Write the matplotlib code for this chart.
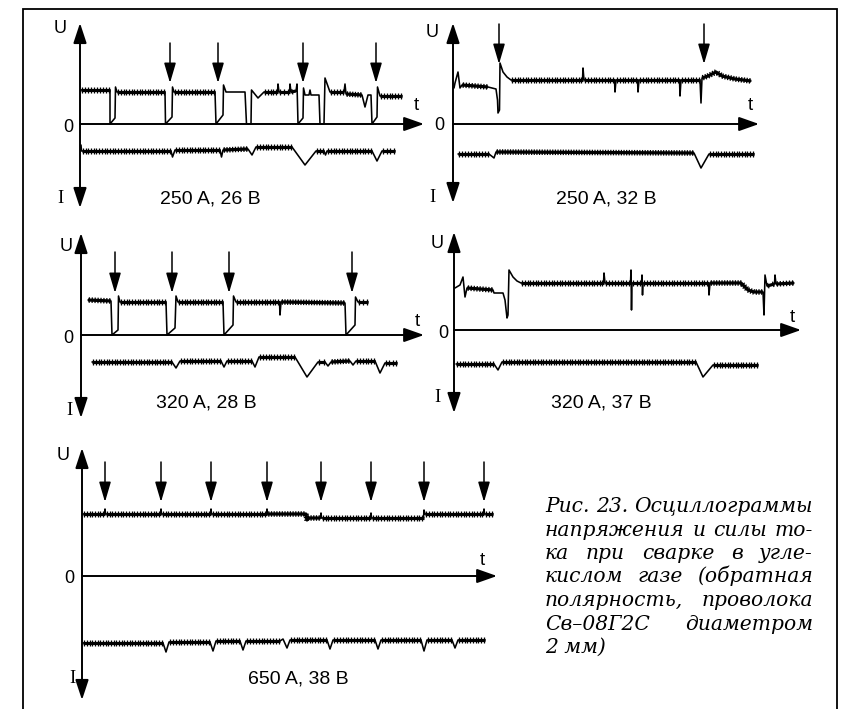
import numpy as np
import matplotlib
matplotlib.use("Agg")
import matplotlib.pyplot as plt
from matplotlib.transforms import Affine2D
from matplotlib import patheffects as pe

# ---------------- data (t = time from U axis, values above/below the zero line) -------------
P1_U_T = [1, 30, 30, 35, 35.5, 37, 85, 85.5, 92, 92.5, 94, 135, 136, 143, 143.5, 146, 165, 166.5, 171, 171.5,
          178, 184, 197.5, 198, 199, 209.5, 210, 211, 216, 217, 218, 223, 223.5, 225, 229, 230, 231, 239, 240, 244,
          245, 250, 264, 265, 266, 282, 285, 288, 291, 292, 297, 297.5, 300, 322]
P1_U_V = [34, 34, 0, 6, 37, 32, 32, 0, 7, 37, 32, 32, 0, 9, 39, 32, 32, 0, 0, 34,
          26, 32, 32, 40, 32, 32, 40, 32, 33, 40, 0, 6, 36, 29, 29, 34, 29, 29, 0, 0,
          46, 32, 32, 40, 30, 29, 17, 29, 29, 0, 7, 37, 28, 28]
P1_U_N = [1, 0, 0, 0, 0, 1, 0, 0, 0, 0, 1, 0, 0, 0, 0, 0, 0, 0, 0, 0,
          0, 1, 0, 0, 1, 0, 0, 1, 0, 0, 0, 0, 0, 0, 0, 0, 0, 0, 0, 0,
          0, 1, 0, 0, 1, 0, 0, 0, 0, 0, 0, 0, 1, 0]
P1_I_T = [1, 1.5, 91, 92.5, 95, 140, 141.5, 143, 168, 172, 176, 212, 225, 236, 244, 245.5, 247, 292, 297, 302, 315]
P1_I_V = [21, 27, 27, 33, 26, 26, 33, 26, 25, 31, 23, 23, 41, 27, 27, 31, 27, 27, 37, 27, 27]
P1_I_N = [0, 1, 0, 0, 1, 0, 0, 1, 0, 0, 1, 0, 0, 1, 0, 0, 1, 0, 0, 1, 0]
P1_ARROWS = [90, 138, 223, 296]

P2_U_T = [1, 2, 5, 7, 9, 35, 43, 44.5, 45, 46.5, 47, 50, 54, 58, 129.5, 130, 131, 161.5, 162, 163,
          184.5, 185, 186, 226.5, 227, 228, 247, 248, 249, 255, 263, 269, 282, 298]
P2_U_V = [36, 41, 52, 36, 39, 37, 35, 24, 11, 14, 61, 52, 47, 44, 44, 56, 44, 44, 32, 44,
          44, 32, 44, 44, 28, 44, 44, 21, 46, 48, 52, 48, 45, 43]
P2_U_N = [0, 0, 0, 0, 1, 0, 0, 0, 0, 0, 0, 0, 0, 1, 0, 0, 1, 0, 0, 1,
          0, 0, 1, 0, 0, 1, 0, 0, 1, 1, 1, 1, 1, 0]
P2_I_T = [5, 36, 41, 43, 241, 248, 256, 301]
P2_I_V = [30, 30, 34, 28, 29, 44, 30, 30]
P2_I_N = [1, 0, 0, 1, 0, 0, 1, 0]
P2_ARROWS = [46, 251]

P3_U_T = [7, 30, 31, 37, 37.5, 39, 85, 86, 94, 95, 97, 142, 143, 152, 152.5, 155, 198.5, 199, 200, 264,
          265, 274, 274.5, 277, 287]
P3_U_V = [35, 34, 0, 5, 39, 33, 33, 0, 7, 39, 33, 33, 0, 10, 39, 33, 33, 20, 33, 32,
          0, 10, 38, 33, 33]
P3_U_N = [1, 0, 0, 0, 0, 1, 0, 0, 0, 0, 1, 0, 0, 0, 0, 1, 0, 0, 1, 0, 0, 0, 0, 1, 0]
P3_I_T = [11, 91, 95, 99, 140, 143, 146, 171, 174, 178, 214, 226, 237, 244, 247, 250, 269, 272, 275, 294,
          299, 304, 316]
P3_I_V = [27, 27, 33, 26, 26, 32, 26, 26, 32, 22, 22, 42, 27, 27, 31, 27, 26, 30, 26, 26, 38, 28, 28]
P3_I_N = [1, 0, 0, 1, 0, 0, 1, 0, 0, 1, 0, 0, 1, 0, 0, 1, 0, 0, 1, 0, 0, 1, 0]
P3_ARROWS = [34, 91, 148, 271]

P4_U_T = [1, 6, 9, 11, 13, 39, 40, 49, 51, 53, 54, 55, 59, 63, 67, 149.5, 150, 151, 176.5, 177,
          177.5, 178, 187.5, 188, 188.5, 189, 254.5, 255, 256, 287, 294, 300, 309, 310, 311, 313, 320.5, 321, 322, 340]
P4_U_V = [42, 45, 53, 33, 42, 40, 37, 37, 30, 12, 15, 60, 53, 49, 47, 47, 57, 47, 47, 60,
          20, 47, 47, 55, 35, 47, 47, 35, 47, 47, 40, 38, 38, 15, 55, 44, 46, 55, 46, 47]
P4_U_N = [0, 0, 0, 0, 1, 0, 0, 0, 0, 0, 0, 0, 0, 0, 1, 0, 0, 1, 0, 0,
          0, 1, 0, 0, 0, 1, 0, 0, 1, 1, 1, 1, 0, 0, 0, 1, 0, 0, 1, 0]
P4_I_T = [2, 40, 44, 48, 242, 249, 259, 304]
P4_I_V = [34, 34, 40, 32, 32, 47, 35, 35]
P4_I_N = [1, 0, 0, 1, 0, 0, 1, 0]
P4_ARROWS = []

P5_U_T = [1, 22.5, 23, 23.5, 78.5, 79, 79.5, 128.5, 129, 129.5, 184.5, 185, 185.5, 224, 225, 226, 238.5, 239, 239.5, 288.5,
          289, 289.5, 341.5, 342, 343, 401.5, 402, 402.5, 411]
P5_U_V = [62, 62, 67, 62, 62, 67, 62, 62, 67, 62, 62, 67, 62, 62, 56, 58, 58, 63, 58, 58,
          63, 58, 58, 66, 62, 62, 67, 62, 62]
P5_U_N = [1, 0, 0, 1, 0, 0, 1, 0, 0, 1, 0, 0, 1, 1, 1, 1, 0, 0, 1, 0,
          0, 1, 0, 0, 1, 0, 0, 1, 0]
P5_I_T = [1, 81, 84, 87, 128, 131, 134, 158, 161, 164, 198, 201, 205, 208, 245, 248, 251, 293, 296, 299,
          339, 342, 345, 370, 373, 376, 403]
P5_I_V = [67, 67, 76, 66, 66, 75, 65, 65, 74, 65, 65, 63, 72, 64, 64, 73, 64, 64, 73, 64,
          64, 75, 64, 64, 72, 64, 64]
P5_I_N = [1, 0, 0, 1, 0, 0, 1, 0, 0, 1, 0, 0, 0, 1, 0, 0, 1, 0, 0, 1, 0, 0, 1, 0, 0, 1, 0]
P5_ARROWS = [23, 79, 129, 185, 239, 289, 342, 402]

PANEL_TITLES = ["250 A, 26 B", "250 A, 32 B", "320 A, 28 B", "320 A, 37 B", "650 A, 38 B"]
CAPTION_LINES = ["Рис. 23. Осциллограммы", "напряжения и силы то-", "ка при сварке в угле-",
                 "кислом газе (обратная", "полярность, проволока", "Св–08Г2С диаметром", "2 мм)"]

# ---------------- layout (pixels) ----------------
W, H = 842, 709
PANELS = [
    dict(x0=80, y0=124, top=101, bot=84, tend=344, atop=81, atip=41,
         U=(60, 33), Z=(68.5, 132), I=(60, 203), t=(416, 110), title=(210, 204)),
    dict(x0=453, y0=124, top=101, bot=79, tend=306, atop=100, atip=60,
         U=(432, 37), Z=(439, 130), I=(432, 202), t=(750, 110), title=(606, 203)),
    dict(x0=81, y0=335, top=102, bot=83, tend=343, atop=83, atip=42,
         U=(66, 251), Z=(68.5, 343), I=(69, 415), t=(417, 326), title=(206, 408)),
    dict(x0=454, y0=330, top=98, bot=83, tend=347, atop=0, atip=0,
         U=(437, 248), Z=(443, 338), I=(437, 402), t=(792, 322), title=(601, 407)),
    dict(x0=82, y0=576, top=128, bot=124, tend=415, atop=114, atip=74,
         U=(63, 460), Z=(69, 583), I=(72, 683), t=(482, 565), title=(298, 683)),
]
DATA = [
    (P1_U_T, P1_U_V, P1_U_N, P1_I_T, P1_I_V, P1_I_N, P1_ARROWS),
    (P2_U_T, P2_U_V, P2_U_N, P2_I_T, P2_I_V, P2_I_N, P2_ARROWS),
    (P3_U_T, P3_U_V, P3_U_N, P3_I_T, P3_I_V, P3_I_N, P3_ARROWS),
    (P4_U_T, P4_U_V, P4_U_N, P4_I_T, P4_I_V, P4_I_N, P4_ARROWS),
    (P5_U_T, P5_U_V, P5_U_N, P5_I_T, P5_I_V, P5_I_N, P5_ARROWS),
]

THIN_LW = 1.15
NOISY_LW = 2.3
FUZZ = [pe.TickedStroke(spacing=1.9, angle=90, length=1.05, linewidth=0.9),
        pe.TickedStroke(spacing=1.9, angle=-90, length=1.05, linewidth=0.9),
        pe.Normal()]

fig = plt.figure(figsize=(W / 100, H / 100), dpi=100)
ax = fig.add_axes([0, 0, 1, 1])
ax.set_xlim(0, W)
ax.set_ylim(H, 0)
ax.axis("off")

# frame
ax.plot([23, 23, 837, 837], [H, 9, 9, H], color="k", lw=1.3, solid_joinstyle="miter")


def noisy_runs(t, v, n):
    runs, cur = [], None
    for i in range(len(t) - 1):
        if n[i]:
            if cur is None:
                cur = ([t[i]], [v[i]])
                runs.append(cur)
            cur[0].append(t[i + 1])
            cur[1].append(v[i + 1])
        else:
            cur = None
    return runs


def draw_trace(tr, t, v, n):
    ax.plot(t, v, color="k", lw=THIN_LW, transform=tr, solid_joinstyle="round", solid_capstyle="round")
    for xs, ys in noisy_runs(list(t), list(v), n):
        ax.plot(xs, ys, color="k", lw=NOISY_LW, transform=tr, solid_capstyle="butt",
                path_effects=FUZZ)


sans = "Liberation Sans"
serif = "Liberation Serif"
cap_font = "DejaVu Serif"

for p, (ut, uv, un, it, iv, inn, arrows), title in zip(PANELS, DATA, PANEL_TITLES):
    tr = Affine2D().scale(1, -1).translate(p["x0"], p["y0"]) + ax.transData
    ax.annotate("", xy=(0, p["top"]), xytext=(0, -p["bot"]), xycoords=tr, textcoords=tr,
                arrowprops=dict(arrowstyle="<|-|>,head_length=0.85,head_width=0.28", mutation_scale=14.4,
                                lw=1.4, color="k", shrinkA=0, shrinkB=0))
    ax.annotate("", xy=(p["tend"], 0), xytext=(0, 0), xycoords=tr, textcoords=tr,
                arrowprops=dict(arrowstyle="-|>,head_length=0.85,head_width=0.3", mutation_scale=14.4,
                                lw=1.4, color="k", shrinkA=0, shrinkB=0))
    draw_trace(tr, ut, uv, un)
    draw_trace(tr, it, [-x for x in iv], inn)
    for a in arrows:
        ax.annotate("", xy=(a, p["atip"]), xytext=(a, p["atop"]), xycoords=tr, textcoords=tr,
                    arrowprops=dict(arrowstyle="-|>,head_length=0.85,head_width=0.25", mutation_scale=14.4,
                                    lw=1.1, color="k", shrinkA=0, shrinkB=0))
    ax.text(*p["U"], "U", fontfamily=sans, fontsize=13, ha="center", va="baseline")
    ax.text(*p["Z"], "0", fontfamily=sans, fontsize=13, ha="center", va="baseline")
    ax.text(*p["I"], "I", fontfamily=serif, fontsize=13.5, ha="center", va="baseline")
    ax.text(*p["t"], "t", fontfamily=sans, fontsize=13.5, ha="center", va="baseline")
    ax.text(*p["title"], title, fontfamily=sans, fontsize=14, ha="center", va="baseline")

# caption, justified; font size chosen so the tightest lines fill the column
renderer = fig.canvas.get_renderer()
CAP_L, CAP_R = 545, 813
probes = [ax.text(0, 0, CAPTION_LINES[k], fontfamily=cap_font, fontstyle="italic", fontsize=15)
          for k in (0, 3)]
cap_fs = 15 * (CAP_R - CAP_L) / max(pr.get_window_extent(renderer).width for pr in probes)
for pr in probes:
    pr.remove()
for k, line in enumerate(CAPTION_LINES):
    y = 512 + 23.5 * k
    kw = dict(fontfamily=cap_font, fontstyle="italic", fontsize=cap_fs, va="baseline", ha="left")
    if k == len(CAPTION_LINES) - 1:
        ax.text(CAP_L, y, line, **kw)
        continue
    words = line.split()
    texts = [ax.text(0, y, w, **kw) for w in words]
    widths = [t.get_window_extent(renderer).width for t in texts]
    gap = (CAP_R - CAP_L - sum(widths)) / (len(words) - 1)
    x = CAP_L
    for t, w in zip(texts, widths):
        t.set_x(x)
        x += w + gap

fig.savefig("out.png", dpi=100)
